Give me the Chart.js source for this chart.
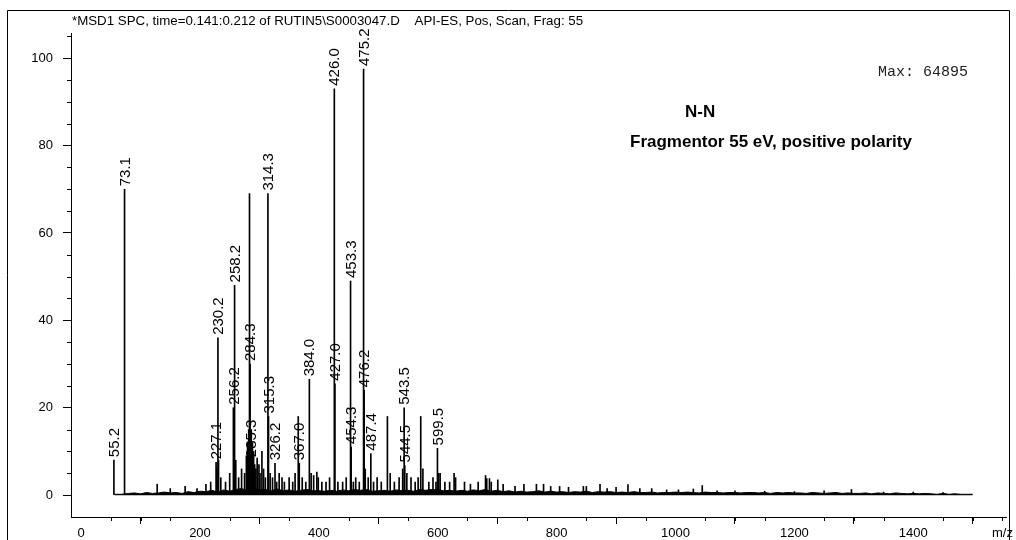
<!DOCTYPE html>
<html>
<head>
<meta charset="utf-8">
<script src="https://cdn.jsdelivr.net/npm/chart.js@4.4.1/dist/chart.umd.min.js"></script>
<style>
  html, body { margin: 0; padding: 0; background: #fff; }
  #wrap { width: 1016px; height: 540px; position: relative; }
</style>
</head>
<body>
<div id="wrap"><canvas id="ms"></canvas></div>
<script>
// Header texts
const titleText = '*MSD1 SPC, time=0.141:0.212 of RUTIN5\\S0003047.D    API-ES, Pos, Scan, Frag: 55';
const maxText = 'Max: 64895';
const sampleText = 'N-N';
const condText = 'Fragmentor 55 eV, positive polarity';

// Axis ticks
const xTicks = [0, 200, 400, 600, 800, 1000, 1200, 1400];
const yTicks = [0, 20, 40, 60, 80, 100];

// Main peaks (m/z, relative abundance %)
const peakMz = [55.2, 73.1, 227.1, 228.2, 230.2, 231.2, 256.2, 257.2, 258.2, 260.2,
  283.3, 284.3, 285.3, 286.3, 288.2, 290.2, 296.2, 299.2, 304.2, 314.3,
  315.3, 326.2, 333.2, 365.3, 367.0, 384.0, 391.2, 396.6, 426.0, 427.0,
  453.3, 454.3, 475.2, 476.2, 487.4, 515.3, 543.5, 544.5, 571.4, 599.5,
  601.5, 627.5, 680.4, 682.4];
const peakInt = [8, 70, 7.5, 6, 36, 8, 20, 9, 48, 8,
  69, 30, 8, 15, 12, 10, 8.5, 7, 10, 69,
  18, 7.3, 5, 18, 7.3, 26.5, 4.5, 5.3, 93, 25.5,
  49, 11, 97.5, 24, 9.5, 18, 20, 6.8, 18, 10.7,
  5, 5, 4.5, 3.8];

// Peaks that carry an m/z label
const labeledPeaks = ['55.2', '73.1', '227.1', '230.2', '256.2', '258.2', '284.3', '285.3',
  '314.3', '315.3', '326.2', '367.0', '384.0', '426.0', '427.0', '453.3', '454.3',
  '475.2', '476.2', '487.4', '543.5', '544.5', '599.5'];

// Small noise spikes
const noiseMz = [128, 150, 175, 195, 210, 218, 235, 243, 250, 265, 270, 275, 278, 280, 282,
  292, 294, 301, 307, 310, 318, 322, 329, 338, 342, 350, 356, 360, 372, 378, 387, 399, 405,
  412, 418, 432, 440, 446, 458, 462, 468, 478, 483, 492, 498, 505, 520, 527, 535, 541, 548,
  555, 562, 567, 575, 585, 592, 597, 604, 612, 620, 630, 645, 655, 668, 687, 690, 701, 710,
  730, 745, 766, 778, 790, 805, 820, 845, 850, 873, 885, 900, 920, 940, 960, 985, 1005, 1030,
  1045, 1070, 1100, 1150, 1200, 1250, 1296, 1350, 1400, 1450];
const noiseInt = [2.5, 1.5, 2.0, 1.5, 2.5, 3, 4, 3, 5, 4, 6, 5, 9, 12, 15,
  7, 6, 5, 6, 4, 5, 4, 3, 4, 3, 4, 3, 5, 4, 3, 5, 4, 3,
  3, 4, 3, 3, 4, 3, 4, 3, 6, 4, 3, 4, 3, 5, 3, 4, 6, 5,
  4, 3, 4, 6, 3, 4, 3, 5, 3, 3, 4, 3, 2.5, 3, 3.8, 3, 3.5, 2.5,
  2, 2.5, 2.5, 2.5, 2, 2, 1.8, 2, 2, 2.5, 1.5, 1.8, 2.4, 1.5, 1.5, 1.2, 1.2, 1.4,
  2.2, 1.0, 1.0, 0.9, 0.8, 1.0, 1.3, 0.7, 0.7, 0.6];

// Baseline noise band (top of the dark band)
const bandMz = [56, 62, 68, 74, 80, 90, 100, 110, 120, 130, 140, 150, 160, 170, 180, 190, 200,
  210, 220, 230, 240, 250, 260, 270, 280, 290, 300, 310, 320, 330, 340, 350, 360, 370, 380, 390, 400,
  410, 420, 430, 440, 450, 460, 470, 480, 490, 500, 510, 520, 530, 540, 550, 560, 570, 580, 590, 600,
  610, 620, 630, 640, 650, 660, 670, 680, 690, 700, 710, 720, 730, 740, 750, 760, 770, 780, 790, 800,
  810, 820, 830, 840, 850, 860, 870, 880, 890, 900, 910, 920, 930, 940, 950, 960, 970, 980, 990, 1000,
  1010, 1020, 1030, 1040, 1050, 1060, 1070, 1080, 1090, 1100, 1110, 1120, 1130, 1140, 1150, 1160,
  1170, 1180, 1190, 1200, 1210, 1220, 1230, 1240, 1250, 1260, 1270, 1280, 1290, 1300, 1310, 1320,
  1330, 1340, 1350, 1360, 1370, 1380, 1390, 1400, 1410, 1420, 1430, 1440, 1450, 1460, 1470, 1480,
  1490, 1500];
const bandInt = [0.2, 0.2, 0.2, 0.3,
  0.4, 0.5, 0.3, 0.6, 0.4, 0.5, 0.7, 0.5, 0.6, 0.4, 0.8, 0.6, 0.9,
  0.8, 1.1, 0.7, 1.2, 0.9, 1.3, 1.5, 1.0, 1.6, 1.2,
  1.3, 1.0, 1.4, 1.0, 1.2, 0.9, 1.1, 1.3, 1.0, 1.0,
  0.9, 1.1, 0.9, 1.2, 1.0, 1.3, 1.1, 1.3, 0.9, 1.0,
  1.1, 0.9, 1.2, 1.0, 1.1, 0.9, 1.3, 1.1, 1.3, 1.2,
  1.0, 1.1, 0.9, 1.1, 0.9, 1.2, 1.0, 1.3, 0.9, 1.1,
  0.8, 1.0, 0.7, 0.9, 0.7, 0.8, 1.0, 0.7, 0.9, 0.7,
  0.8, 0.6, 0.8, 0.7, 0.9, 0.6, 0.8, 0.7, 0.8, 0.6,
  0.7, 0.6, 0.8, 0.6, 0.6, 0.7, 0.5, 0.6, 0.6, 0.7,
  0.6, 0.7, 0.6, 0.5, 0.7, 0.6, 0.6, 0.5, 0.6, 0.6,
  0.5, 0.6, 0.6, 0.5, 0.6, 0.4, 0.6, 0.5, 0.6, 0.5,
  0.5, 0.4, 0.6, 0.5, 0.4, 0.5, 0.6, 0.4, 0.5, 0.4,
  0.4, 0.5, 0.3, 0.5, 0.4, 0.3, 0.5, 0.4, 0.3, 0.4,
  0.3, 0.4, 0.3, 0.2, 0.4, 0.2, 0.3, 0.2, 0.2, 0.2];

const sans = '"Liberation Sans", Arial, sans-serif';
const mono = '"Liberation Mono", "Courier New", monospace';

const toXY = (xs, ys) => xs.map((x, i) => ({ x: x, y: ys[i] }));

// Draws frame, minor ticks, peak labels and the header texts
const annotations = {
    id: 'annotations',
    afterDraw(chart) {
        const ctx = chart.ctx;
        const xs = chart.scales.x;
        const ys = chart.scales.y;
        const area = chart.chartArea;
        ctx.save();
        ctx.strokeStyle = '#000';
        ctx.lineWidth = 1;

        // outer frame
        ctx.beginPath();
        ctx.moveTo(7.5, 540);
        ctx.lineTo(7.5, 10.5);
        ctx.lineTo(1009.5, 10.5);
        ctx.lineTo(1009.5, 540);
        ctx.stroke();

        // minor ticks
        ctx.beginPath();
        for (let v = 50; v <= 1550; v += 50) {
            if (v % 200 === 0) continue;
            const px = Math.round(xs.getPixelForValue(v)) + 0.5;
            ctx.moveTo(px, area.bottom);
            ctx.lineTo(px, area.bottom + 4);
        }
        for (let v = 5; v <= 105; v += 5) {
            if (v % 20 === 0) continue;
            const py = Math.round(ys.getPixelForValue(v)) + 0.5;
            ctx.moveTo(area.left, py);
            ctx.lineTo(area.left - 4, py);
        }
        ctx.stroke();

        // peak labels
        ctx.fillStyle = '#000';
        ctx.font = '15px ' + sans;
        ctx.textAlign = 'left';
        ctx.textBaseline = 'middle';
        labeledPeaks.forEach(lbl => {
            const idx = peakMz.indexOf(parseFloat(lbl));
            if (idx < 0) return;
            const px = xs.getPixelForValue(peakMz[idx]);
            const py = ys.getPixelForValue(peakInt[idx]);
            ctx.save();
            ctx.translate(px + 1, py - 3);
            ctx.rotate(-Math.PI / 2);
            ctx.fillText(lbl, 0, 0);
            ctx.restore();
        });

        // m/z axis caption
        ctx.font = '13px ' + sans;
        ctx.textAlign = 'center';
        ctx.textBaseline = 'top';
        ctx.fillText('m/z', xs.getPixelForValue(1550), area.bottom + 10);

        // header
        ctx.textAlign = 'left';
        ctx.textBaseline = 'alphabetic';
        ctx.font = '13.3px ' + sans;
        ctx.fillText(titleText, 72, 25);
        ctx.font = '15px ' + mono;
        ctx.fillStyle = '#222';
        ctx.fillText(maxText, 878, 76);
        ctx.fillStyle = '#000';
        ctx.font = 'bold 17px ' + sans;
        ctx.fillText(sampleText, 685, 117);
        ctx.fillText(condText, 630, 147);
        ctx.restore();
    }
};

const ctx = document.getElementById('ms').getContext('2d');
const chart = new Chart(ctx, {
    type: 'bar',
    data: {
        datasets: [
            {
                type: 'line',
                label: 'baseline',
                data: toXY(bandMz, bandInt),
                borderColor: '#000',
                backgroundColor: '#000',
                borderWidth: 1,
                pointRadius: 0,
                tension: 0,
                fill: 'origin'
            },
            {
                label: 'noise',
                data: toXY(noiseMz, noiseInt),
                backgroundColor: '#000',
                barThickness: 1,
                grouped: false
            },
            {
                label: 'peaks',
                data: toXY(peakMz, peakInt),
                backgroundColor: '#000',
                barThickness: 1,
                grouped: false
            }
        ]
    },
    options: {
        responsive: true,
        maintainAspectRatio: false,
        animation: false,
        devicePixelRatio: 1,
        layout: { padding: { left: 0, right: 10, top: 33, bottom: 0 } },
        plugins: {
            legend: { display: false },
            tooltip: { enabled: false },
            title: { display: false }
        },
        scales: {
            x: {
                type: 'linear',
                min: -17,
                max: 1556,
                offset: false,
                grid: { drawOnChartArea: false, drawTicks: true, tickLength: 7, color: '#000' },
                border: { color: '#000', width: 1 },
                ticks: {
                    color: '#000',
                    font: { size: 13, family: sans },
                    padding: 2,
                    maxRotation: 0,
                    autoSkip: false,
                    callback: v => String(v)
                },
                afterBuildTicks: s => { s.ticks = xTicks.map(v => ({ value: v })); },
                afterFit: s => { s.height = 23; }
            },
            y: {
                type: 'linear',
                min: -5,
                max: 105.75,
                grid: { drawOnChartArea: false, drawTicks: true, tickLength: 8, color: '#000' },
                border: { color: '#000', width: 1 },
                ticks: {
                    color: '#000',
                    font: { size: 13, family: sans },
                    padding: 10,
                    autoSkip: false,
                    callback: v => String(v)
                },
                afterBuildTicks: s => { s.ticks = yTicks.map(v => ({ value: v })); },
                afterFit: s => { s.width = 71; }
            }
        }
    },
    plugins: [annotations]
});
</script>
</body>
</html>
